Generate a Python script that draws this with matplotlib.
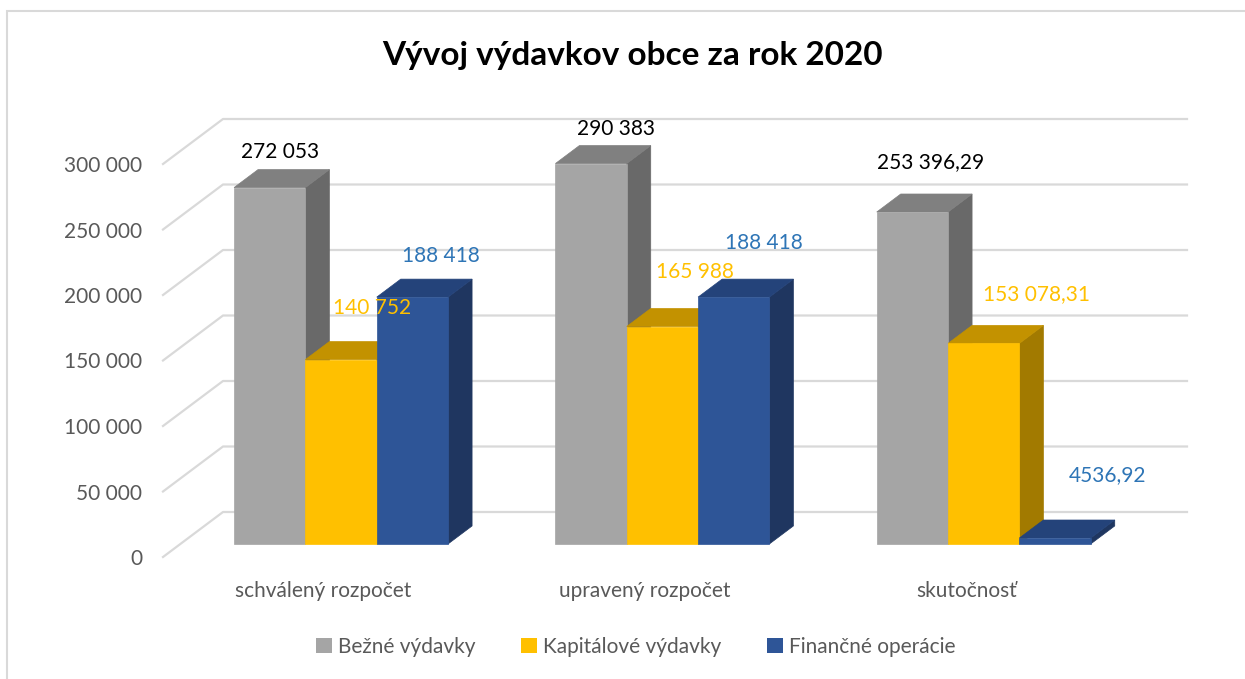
import matplotlib
matplotlib.use("Agg")
import matplotlib.pyplot as plt
from matplotlib.patches import Polygon, Patch, Rectangle
from matplotlib.lines import Line2D

plt.rcParams['font.family'] = ['Lato', 'DejaVu Sans']

# data
categories = ['schválený rozpočet', 'upravený rozpočet', 'skutočnosť']
series_names = ['Bežné výdavky', 'Kapitálové výdavky', 'Finančné operácie']
bezne = [272053, 290383, 253396.29]
kapitalove = [140752, 165988, 153078.31]
financne = [188418, 188418, 4536.92]
bezne_lbl = ['272 053', '290 383', '253 396,29']
kapitalove_lbl = ['140 752', '165 988', '153 078,31']
financne_lbl = ['188 418', '188 418', '4536,92']
yticks = [0, 50000, 100000, 150000, 200000, 250000, 300000]
ytick_lbl = ['0', '50 000', '100 000', '150 000', '200 000', '250 000', '300 000']

values = [bezne, kapitalove, financne]
labels = [bezne_lbl, kapitalove_lbl, financne_lbl]

# styles: (front, top, side, label colour)
styles = [
    ('#A5A5A5', '#808080', '#696969', '#000000'),
    ('#FFC000', '#C39200', '#A27A00', '#FFC000'),
    ('#2E5597', '#24437A', '#1F3660', '#2E75B6'),
]
# label offsets in pixels (dx, dy) from bar top centre
lbl_off = [
    [(-2, 27), (13, 26), (6, 41)],
    [(19, 43), (21, 46), (41, 40)],
    [(16, 32), (18, 45), (40, 54)],
]

W, H = 1245, 679
fig = plt.figure(figsize=(W / 100, H / 100), dpi=100)
ax = fig.add_axes([163 / W, 122 / H, 964 / W, 393 / H])
ax.set_xlim(-0.5, 2.5)
ax.set_ylim(0, 300000)

DX = 60 / 321.3          # depth offset in category units
DY = 45 / 393 * 300000   # depth offset in value units
BW = 0.222
D0, D1 = 0.29, 0.69


def proj(x, v, d):
    return (x + d * DX, v + d * DY)


# gridlines (left wall + back wall)
for v in yticks:
    xs = [-0.5, -0.5 + DX, 2.5 + DX]
    ys = [v, v + DY, v + DY]
    ax.add_line(Line2D(xs, ys, color='#D9D9D9', lw=1.6, zorder=1, clip_on=False))

# bars
for ci in range(len(categories)):
    for si in range(len(values)):
        v = values[si][ci]
        xc = ci + (si - 1) * BW
        xl, xr = xc - BW / 2, xc + BW / 2
        fc, tc, sc, lc = styles[si]
        front = [proj(xl, 0, D0), proj(xr, 0, D0), proj(xr, v, D0), proj(xl, v, D0)]
        top = [proj(xl, v, D0), proj(xr, v, D0), proj(xr, v, D1), proj(xl, v, D1)]
        side = [proj(xr, 0, D0), proj(xr, 0, D1), proj(xr, v, D1), proj(xr, v, D0)]
        z = 2 + ci * 3 + si
        for poly, col in ((side, sc), (top, tc), (front, fc)):
            ax.add_patch(Polygon(poly, closed=True, facecolor=col, edgecolor=col,
                                 lw=0.5, zorder=z, clip_on=False))
        ox, oy = lbl_off[si][ci]
        ax.annotate(labels[si][ci], xy=proj(xc, v, 0.49), xytext=(ox, oy),
                    textcoords='offset pixels', ha='center', va='center',
                    fontsize=15, color=lc, zorder=20, annotation_clip=False)

for s in ax.spines.values():
    s.set_visible(False)
ax.set_yticks(yticks)
ax.set_yticklabels(ytick_lbl)
ax.set_xticks(range(len(categories)))
ax.set_xticklabels(categories)
ax.tick_params(axis='y', length=0, pad=15, labelsize=15, labelcolor='#595959')
ax.tick_params(axis='x', length=0, pad=17, labelsize=15, labelcolor='#595959')
ax.patch.set_visible(False)

fig.text(633 / W, 1 - 55 / H, 'Vývoj výdavkov obce za rok 2020', ha='center',
         va='center', fontsize=24, fontweight='bold', color='#000000')

handles = [Patch(facecolor=styles[i][0], edgecolor='none', label=series_names[i])
           for i in range(3)]
fig.legend(handles=handles, loc='center', bbox_to_anchor=(636 / W, 1 - 647 / H),
           ncol=3, frameon=False, fontsize=15, labelcolor='#595959',
           handlelength=0.75, handleheight=0.75, handletextpad=0.3,
           columnspacing=2.2)

# chart border
fig.add_artist(Rectangle((7 / W, -0.05), 1.1, 1 - 11 / H + 0.05,
                         transform=fig.transFigure, fill=False,
                         edgecolor='#D9D9D9', lw=1.5))

fig.savefig('out.png', dpi=100)
